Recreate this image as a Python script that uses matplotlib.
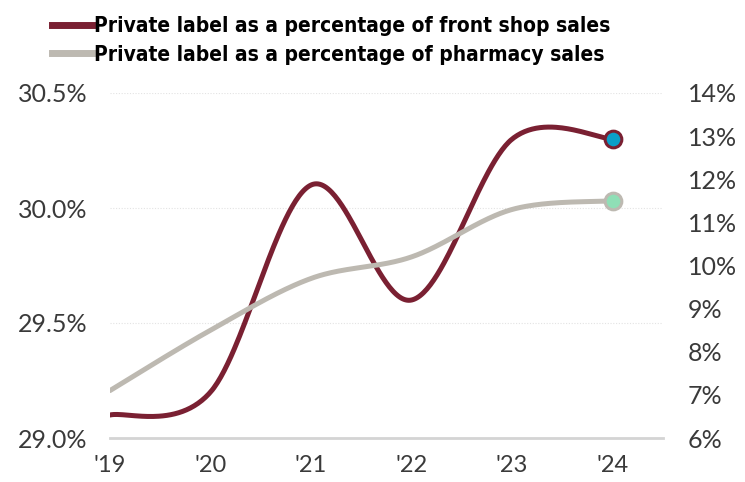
import numpy as np
import matplotlib
matplotlib.use("Agg")
import matplotlib.pyplot as plt
from matplotlib.lines import Line2D

# Yearly private label shares
years = [2019, 2020, 2021, 2022, 2023, 2024]
year_labels = ["'19", "'20", "'21", "'22", "'23", "'24"]
front_shop = [29.1, 29.2, 30.1, 29.6, 30.3, 30.3]   # left axis, %
pharmacy = [7.1, 8.5, 9.7, 10.2, 11.3, 11.5]        # right axis, %

left_ticks = [29.0, 29.5, 30.0, 30.5]
right_ticks = [6, 7, 8, 9, 10, 11, 12, 13, 14]

MAROON = "#7a2032"
GREY = "#bdb9b1"
BLUE = "#0a9fc9"
MINT = "#8fdfb6"
TICK_FONT = dict(family="Lato", weight="normal", size=18, color="#3a3a3a")


def smooth(xs, ys, steps=60):
    """Cardinal (Catmull-Rom, tension 0) curve through the points."""
    xs = np.asarray(xs, float)
    ys = np.asarray(ys, float)
    n = len(xs)
    pts = np.column_stack([xs, ys])
    padded = np.vstack([pts[0], pts, pts[-1]])
    t = np.linspace(0, 1, steps)[:, None]
    out = []
    for i in range(n - 1):
        p_prev, p0, p1, p_next = padded[i], padded[i + 1], padded[i + 2], padded[i + 3]
        c1 = p0 + (p1 - p_prev) / 6
        c2 = p1 - (p_next - p0) / 6
        seg = ((1 - t) ** 3) * p0 + 3 * ((1 - t) ** 2) * t * c1 \
            + 3 * (1 - t) * t ** 2 * c2 + t ** 3 * p1
        out.append(seg if i == 0 else seg[1:])
    curve = np.vstack(out)
    return curve[:, 0], curve[:, 1]


fig = plt.figure(figsize=(7.45, 4.82), dpi=100)
ax = fig.add_axes([110 / 745, 44 / 482, 553 / 745, 345 / 482])
ax2 = ax.twinx()

ax.set_xlim(2019, 2024.5)
ax.set_ylim(29.0, 30.5)
ax2.set_ylim(6, 14)

# faint dotted gridlines and solid baseline
for v in left_ticks[1:]:
    ax.axhline(v, color="#e3e3e3", lw=0.8, ls=(0, (1, 1.5)), zorder=0)
ax.axhline(29.0, color="#d4d4d4", lw=2, zorder=1, clip_on=False)

fx, fy = smooth(years, front_shop)
ax.plot(fx, fy, color=MAROON, lw=3.6, solid_capstyle="round", zorder=3)
ax.plot(years[-1], front_shop[-1], "o", ms=12, mfc=BLUE, mec=MAROON, mew=2.2,
        zorder=4, clip_on=False)

px, py = smooth(years, pharmacy)
ax2.plot(px, py, color=GREY, lw=3.6, solid_capstyle="round", zorder=2)
ax2.plot(years[-1], pharmacy[-1], "o", ms=12, mfc=MINT, mec=GREY, mew=2.2,
         zorder=4, clip_on=False)

for a in (ax, ax2):
    for s in a.spines.values():
        s.set_visible(False)
    a.tick_params(length=0)

ax.set_xticks(years)
ax.set_xticklabels(year_labels, **{**TICK_FONT, "size": 17})
ax.tick_params(axis="x", pad=12)
ax.set_yticks(left_ticks)
ax.set_yticklabels([f"{v:.1f}%" for v in left_ticks], **TICK_FONT)
ax.tick_params(axis="y", pad=16)
ax2.set_yticks(right_ticks)
ax2.set_yticklabels([f"{v}%" for v in right_ticks], **TICK_FONT)
ax2.tick_params(axis="y", pad=18)

handles = [
    Line2D([], [], color=MAROON, lw=5),
    Line2D([], [], color=GREY, lw=5),
]
labels = [
    "Private label as a percentage of front shop sales",
    "Private label as a percentage of pharmacy sales",
]
fig.legend(handles, labels, loc="upper left", bbox_to_anchor=(42 / 745, 1 - 6 / 482),
           frameon=False, handlelength=1.9, handletextpad=0.1, borderpad=0,
           labelspacing=0.4,
           prop=dict(family="DejaVu Sans", stretch="condensed", weight="bold", size=15))

fig.savefig("out.png", dpi=100)
